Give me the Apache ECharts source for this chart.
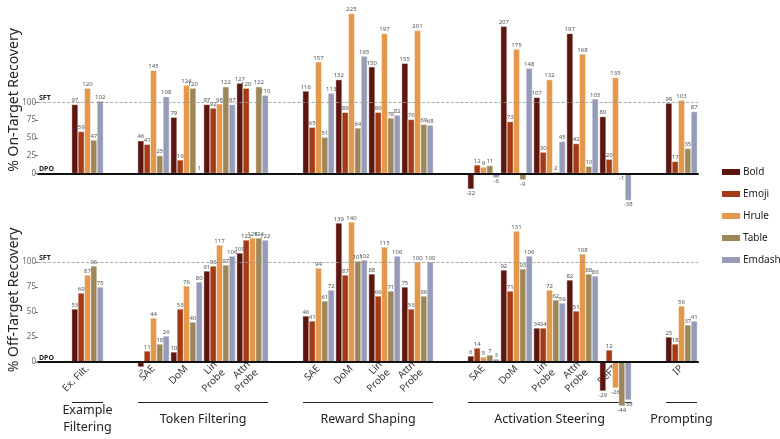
<!DOCTYPE html>
<html>
<head>
<meta charset="utf-8">
<script src="https://cdn.jsdelivr.net/npm/echarts@6/dist/echarts.min.js"></script>
<style>
html, body { margin: 0; padding: 0; background: #fff; }
#chart { width: 780px; height: 439px; }
</style>
</head>
<body>
<div id="chart"></div>
<script>
// '' entries are spacers between method families
const categories = ['', 'Ex. Filt.', '', 'SAE', 'DoM', 'Lin\nProbe', 'Attn\nProbe', '', 'SAE', 'DoM', 'Lin\nProbe', 'Attn\nProbe', '', 'SAE', 'DoM', 'Lin\nProbe', 'Attn\nProbe', 'ReFT', '', 'IP']
const seriesNames = ['Bold', 'Emoji', 'Hrule', 'Table', 'Emdash']
const colors = ['#5c1610', '#a53b14', '#e4984b', '#9d8657', '#969cb7']

// % on-target recovery
const onBold = ['-', 97, '-', 46, 79, 97, 127, '-', 116, 132, 150, 155, '-', -22, 207, 107, 197, 80, '-', 99]
const onEmoji = ['-', 59, '-', 41, 19, 92, 120, '-', 65, 86, 86, 76, '-', 12, 73, 30, 42, 20, '-', 17]
const onHrule = ['-', 120, '-', 145, 124, 98, '-', '-', 157, 225, 197, 201, '-', 9, 175, 132, 168, 135, '-', 103]
const onTable = ['-', 47, '-', 25, 120, 122, 122, '-', 51, 64, 78, 69, '-', 11, -9, 2, 10, -1, '-', 35]
const onEmdash = ['-', 102, '-', 108, 1, 97, 110, '-', 113, 165, 82, 68, '-', -6, 148, 45, 105, -38, '-', 87]

// % off-target recovery
const offBold = ['-', 53, '-', -5, 10, 91, 109, '-', 46, 139, 88, 75, '-', 6, 92, 34, 82, -29, '-', 25]
const offEmoji = ['-', 69, '-', 11, 53, 96, 122, '-', 41, 87, 66, 53, '-', 14, 71, 34, 51, 12, '-', 18]
const offHrule = ['-', 87, '-', 44, 76, 117, 124, '-', 94, 140, 115, 100, '-', 5, 131, 72, 108, -26, '-', 56]
const offTable = ['-', 96, '-', 18, 40, 97, 124, '-', 61, 101, 71, 66, '-', 7, 93, 62, 88, -44, '-', 37]
const offEmdash = ['-', 75, '-', 26, 80, 106, 122, '-', 72, 102, 106, 100, '-', 3, 106, 59, 86, -38, '-', 41]

const yTicks = [0, 25, 50, 75, 100]
const groupNames = ['Example\nFiltering', 'Token Filtering', 'Reward Shaping', 'Activation Steering', 'Prompting']
const groupSpans = [[1, 1], [3, 6], [8, 11], [13, 17], [19, 19]]

const font = '"Noto Sans", sans-serif'
let chart = echarts.init(document.getElementById('chart'))

function toData (arr) {
  return arr.map(function (v) {
    if (typeof v === 'number' && v < 0) return { value: v, label: { position: 'bottom' } }
    return v
  })
}

function refLines () {
  let lbl = { position: 'insideStartTop', fontSize: 7, fontWeight: 'bold', color: '#222', distance: 1 }
  return {
    silent: true,
    symbol: 'none',
    animation: false,
    data: [
      { yAxis: 100, lineStyle: { type: 'dashed', color: '#999', width: 0.8 }, label: Object.assign({ formatter: 'SFT' }, lbl) },
      { yAxis: 0, lineStyle: { type: 'solid', color: '#111', width: 2 }, label: Object.assign({ formatter: 'DPO' }, lbl) }
    ]
  }
}

function makeSeries (grid, arrays) {
  return arrays.map(function (arr, i) {
    let s = {
      name: seriesNames[i],
      type: 'bar',
      xAxisIndex: grid,
      yAxisIndex: grid,
      data: toData(arr),
      clip: false,
      barGap: '0%',
      barCategoryGap: '4%',
      itemStyle: { color: colors[i], borderColor: '#fff', borderWidth: 0.4 },
      label: { show: true, position: 'top', fontSize: 6, color: '#555', distance: 1 }
    }
    if (i === 0) s.markLine = refLines()
    return s
  })
}

function yAxis (grid, min, max) {
  return {
    gridIndex: grid,
    type: 'value',
    min: min,
    max: max,
    axisLine: { show: false },
    splitLine: { show: false },
    axisTick: { show: true, length: 3, customValues: yTicks, lineStyle: { color: '#777' } },
    axisLabel: { customValues: yTicks, fontSize: 8, color: '#666', margin: 2 }
  }
}

function xAxis (grid, showLabels) {
  return {
    gridIndex: grid,
    type: 'category',
    data: categories,
    axisTick: { show: false },
    axisLine: { onZero: true, lineStyle: { color: '#111', width: 2 } },
    axisLabel: { show: showLabels, interval: 0, rotate: 45, fontSize: 10, color: '#333', margin: 5, lineHeight: 11 }
  }
}

chart.setOption({
  animation: false,
  textStyle: { fontFamily: font },
  grid: [
    { left: 38, width: 660, top: 10, height: 199 },
    // bottom edge sits on zero so the tick labels hug the DPO line; negatives hang below (clip off)
    { left: 38, width: 660, top: 212, height: 150 }
  ],
  legend: {
    orient: 'vertical',
    left: 715,
    top: 162,
    itemWidth: 20,
    itemHeight: 8,
    itemGap: 12,
    icon: 'rect',
    data: seriesNames,
    textStyle: { fontSize: 10, color: '#222', padding: [0, 0, 0, -3] }
  },
  xAxis: [xAxis(0, false), xAxis(1, true)],
  yAxis: [yAxis(0, -50, 230), yAxis(1, 0, 150)],
  series: makeSeries(0, [onBold, onEmoji, onHrule, onTable, onEmdash])
    .concat(makeSeries(1, [offBold, offEmoji, offHrule, offTable, offEmdash]))
})

// family brackets + names under the bottom axis
let half = (chart.convertToPixel({ xAxisIndex: 1 }, 1) - chart.convertToPixel({ xAxisIndex: 1 }, 0)) / 2
let graphics = [
  { type: 'text', x: 14, y: 100, rotation: Math.PI / 2, style: { text: '% On-Target Recovery', fontSize: 14, fontFamily: font, fill: '#222', align: 'center', verticalAlign: 'middle' } },
  { type: 'text', x: 14, y: 300, rotation: Math.PI / 2, style: { text: '% Off-Target Recovery', fontSize: 14, fontFamily: font, fill: '#222', align: 'center', verticalAlign: 'middle' } }
]
groupSpans.forEach(function (span, i) {
  let x0 = Math.round(chart.convertToPixel({ xAxisIndex: 1 }, span[0]) - half + 1)
  let x1 = Math.round(chart.convertToPixel({ xAxisIndex: 1 }, span[1]) + half - 1)
  graphics.push({ type: 'line', shape: { x1: x0, y1: 402.5, x2: x1, y2: 402.5 }, style: { stroke: '#222', lineWidth: 1 } })
  graphics.push({ type: 'text', x: (x0 + x1) / 2, y: 419, style: { text: groupNames[i], fontSize: 12.5, fontFamily: font, fill: '#222', align: 'center', verticalAlign: 'middle', lineHeight: 17 } })
})
chart.setOption({ graphic: graphics })
</script>
</body>
</html>
